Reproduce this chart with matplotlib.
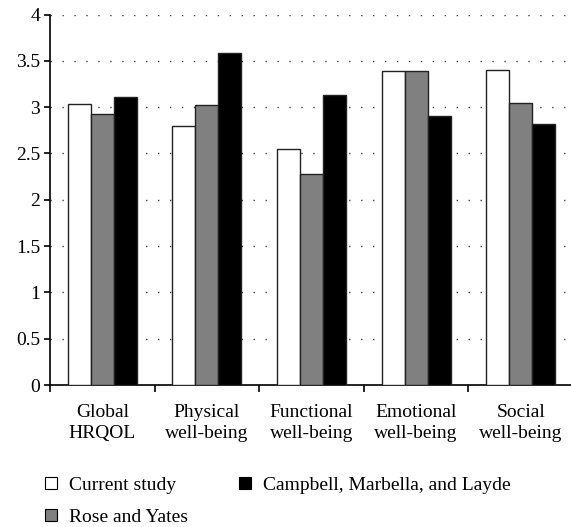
import matplotlib
matplotlib.use("Agg")
import matplotlib.pyplot as plt
from matplotlib.lines import Line2D
import numpy as np

categories = ["Global\nHRQOL", "Physical\nwell-being", "Functional\nwell-being",
              "Emotional\nwell-being", "Social\nwell-being"]
current_study = [3.03, 2.80, 2.55, 3.39, 3.40]
rose_yates = [2.93, 3.02, 2.28, 3.39, 3.04]
campbell = [3.11, 3.58, 3.13, 2.90, 2.82]
series_names = ["Current study", "Rose and Yates", "Campbell, Marbella, and Layde"]
colors = ["white", "#808080", "black"]

plt.rcParams['font.family'] = ['Liberation Serif', 'DejaVu Serif']

fig = plt.figure(figsize=(5.71, 5.27), dpi=100)
W, H = 571, 527
ax = fig.add_axes([50 / W, 1 - 385 / H, (571 - 50) / W, (385 - 14.5) / H])

x = np.arange(len(categories))
bw = 0.22
for i, (vals, c) in enumerate(zip([current_study, rose_yates, campbell], colors)):
    ax.bar(x + (i - 1) * bw, vals, width=bw, color=c, edgecolor="#222222",
           linewidth=1.0, zorder=3, label=series_names[i])

ax.set_ylim(0, 4)
ax.set_xlim(-0.5, -0.5 + 521 / 104.6)
ax.set_yticks(np.arange(0, 4.01, 0.5))
ax.set_yticklabels(["0", "0.5", "1", "1.5", "2", "2.5", "3", "3.5", "4"])
ax.yaxis.grid(True, linestyle=(0, (1, 7.6)), color="#444444", linewidth=1.0, zorder=0)
ax.set_axisbelow(True)

fs = 14
ax.set_xticks(np.arange(0, 5) - 0.5, minor=False)
ax.set_xticklabels([])
ax.set_xticks(x, minor=True)
ax.set_xticklabels(categories, minor=True, fontsize=fs, linespacing=1.25)
ax.tick_params(axis="x", which="minor", length=0, pad=14)
ax.tick_params(axis="x", which="major", length=5, width=1.2, direction="out")
ax.tick_params(axis="y", length=4, width=1.2, direction="out", labelsize=fs, pad=3)

for s in ["top", "right"]:
    ax.spines[s].set_visible(False)
for s in ["left", "bottom"]:
    ax.spines[s].set_linewidth(1.2)

handles = [Line2D([0], [0], marker="s", linestyle="none", markersize=8,
                  markerfacecolor=c, markeredgecolor="black", markeredgewidth=0.8)
           for c in colors]
fig.legend([handles[0], handles[1], handles[2]],
           [series_names[0], series_names[1], series_names[2]],
           loc="upper left", bbox_to_anchor=(26 / W, 1 - 459 / H), ncol=2,
           frameon=False, fontsize=fs, handlelength=0.8, handletextpad=0.5,
           columnspacing=2.55, labelspacing=0.72)

fig.savefig("out.png", dpi=100)
